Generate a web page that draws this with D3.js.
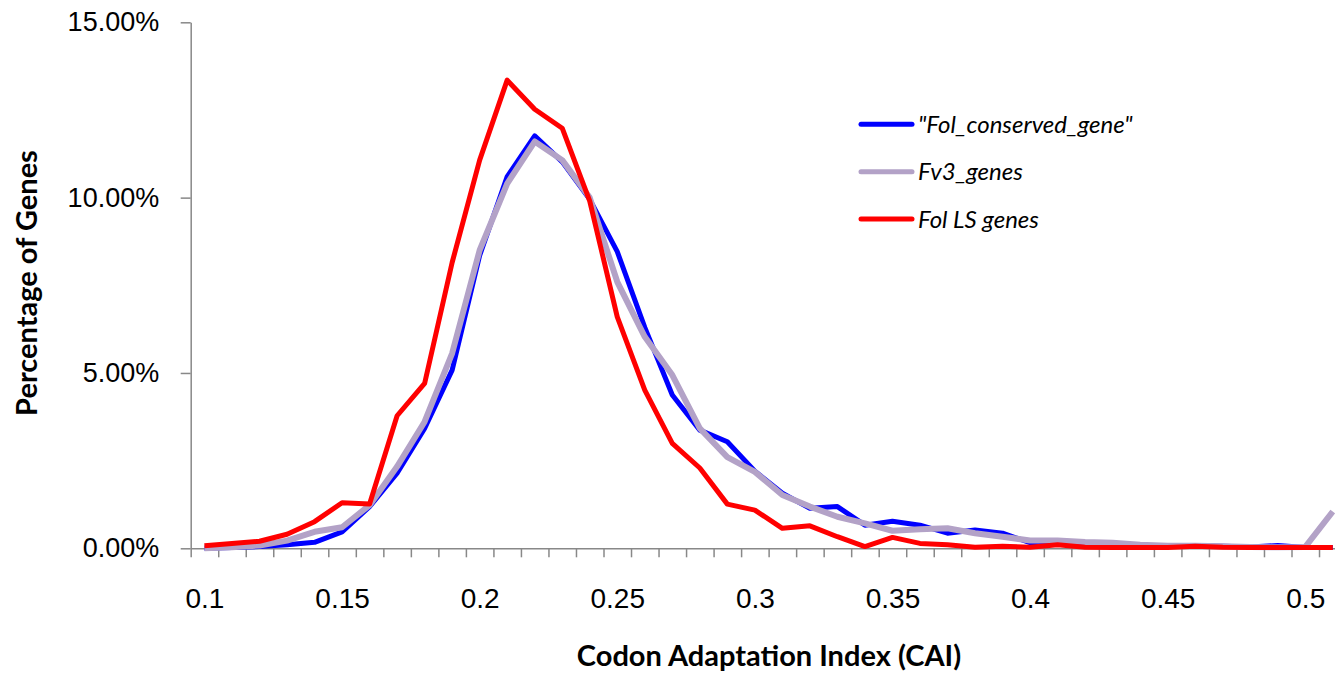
<!DOCTYPE html>
<html>
<head>
<meta charset="utf-8">
<script src="https://cdnjs.cloudflare.com/ajax/libs/d3/7.8.5/d3.min.js"></script>
<style>
  body { margin: 0; background: #fff; }
  svg { display: block; font-family: Lato, "Open Sans", sans-serif; }
  .axis path, .axis line { stroke: #888; stroke-width: 1.5px; }
</style>
</head>
<body>
<div class="container"></div>
<script>
// CAI categories 0.10 ... 0.51
const cai = d3.range(10, 52).map(d => d / 100)
const labelTicks = [0.1, 0.15, 0.2, 0.25, 0.3, 0.35, 0.4, 0.45, 0.5]
const yTicks = [0, 0.05, 0.10, 0.15]

const seriesNames = ['"Fol_conserved_gene"', 'Fv3_genes', 'Fol LS genes']
const seriesColors = ['#0000ff', '#b3a2c7', '#ff0000']

// values in percent
const folConserved = [0.00, 0.02, 0.05, 0.10, 0.17, 0.47, 1.19, 2.14, 3.42, 5.08,
  8.35, 10.60, 11.76, 11.02, 9.95, 8.46, 6.30, 4.37, 3.37, 3.04,
  2.20, 1.57, 1.14, 1.19, 0.66, 0.77, 0.66, 0.43, 0.52, 0.43,
  0.16, 0.14, 0.14, 0.12, 0.08, 0.06, 0.08, 0.06, 0.04, 0.08,
  0.02, 0.02]
const fv3Genes = [0.00, 0.03, 0.08, 0.22, 0.47, 0.60, 1.23, 2.33, 3.61, 5.56,
  8.50, 10.40, 11.60, 11.07, 10.00, 7.60, 6.03, 4.94, 3.42, 2.60,
  2.18, 1.52, 1.19, 0.90, 0.71, 0.50, 0.54, 0.57, 0.43, 0.33,
  0.22, 0.22, 0.18, 0.16, 0.10, 0.07, 0.07, 0.06, 0.04, 0.03,
  0.04, 1.05]
const folLS = [0.07, 0.14, 0.20, 0.40, 0.76, 1.30, 1.26, 3.78, 4.70, 8.15,
  11.07, 13.35, 12.52, 11.98, 9.90, 6.60, 4.51, 2.99, 2.29, 1.26,
  1.09, 0.57, 0.64, 0.33, 0.05, 0.31, 0.14, 0.10, 0.03, 0.06,
  0.03, 0.10, 0.03, 0.02, 0.02, 0.02, 0.06, 0.03, 0.02, 0.02,
  0.02, 0.02]

const W = 1335, H = 676
const x0 = 190.7, step = 27.52
const plotTop = 22.3, plotBottom = 548.3

const svg = d3.select('.container').append('svg')
  .attr('width', W)
  .attr('height', H)

const x = d3.scalePoint()
  .domain(cai)
  .range([x0, x0 + step * cai.length])
  .padding(0.5)

// boundary scale for the tick marks between categories
const xb = d3.scaleLinear()
  .domain([0, cai.length])
  .range([x0, x0 + step * cai.length])

const y = d3.scaleLinear()
  .domain([0, 0.15])
  .range([plotBottom, plotTop])

// y axis
const yAxis = svg.append('g')
  .attr('class', 'axis')
  .attr('transform', `translate(${x0},0)`)
  .call(d3.axisLeft(y).tickValues(yTicks).tickFormat(d3.format('.2%')).tickSize(10).tickSizeOuter(0).tickPadding(21.5))
yAxis.selectAll('text').style('font-size', '27px').attr('fill', '#000')

// x axis: tick marks between categories
svg.append('g')
  .attr('class', 'axis')
  .attr('transform', `translate(0,${plotBottom})`)
  .call(d3.axisBottom(xb).tickValues(d3.range(0, cai.length + 1)).tickFormat('').tickSize(9).tickSizeOuter(0))

// x axis labels
const xLab = svg.append('g')
  .attr('transform', `translate(0,${plotBottom})`)
  .call(d3.axisBottom(x).tickValues(labelTicks).tickFormat(d => String(d)).tickSize(0).tickPadding(39.5))
xLab.select('.domain').remove()
xLab.selectAll('text').style('font-size', '28px').attr('fill', '#000')

// lines
const line = d3.line()
  .x((d, i) => x(cai[i]))
  .y(d => y(d / 100))

const data = [folConserved, fv3Genes, folLS]
const widths = [5, 6, 5]
data.forEach((vals, k) => {
  svg.append('path')
    .datum(vals)
    .attr('fill', 'none')
    .attr('stroke', seriesColors[k])
    .attr('stroke-width', widths[k])
    .attr('stroke-linejoin', 'round')
    .attr('d', line)
})

// axis titles
svg.append('text')
  .attr('x', 769)
  .attr('y', 666)
  .attr('text-anchor', 'middle')
  .style('font-size', '29px')
  .style('font-weight', 'bold')
  .text('Codon Adaptation Index (CAI)')

svg.append('text')
  .attr('transform', 'translate(37,283) rotate(-90)')
  .attr('text-anchor', 'middle')
  .style('font-size', '29px')
  .style('font-weight', 'bold')
  .text('Percentage of Genes')

// legend
const legend = svg.append('g').attr('id', 'legend')
  .selectAll('g')
  .data(seriesNames)
  .enter()
  .append('g')
  .attr('transform', (d, i) => `translate(0,${124.3 + i * 47.4})`)

legend.append('line')
  .attr('x1', 861)
  .attr('x2', 912)
  .attr('stroke', (d, i) => seriesColors[i])
  .attr('stroke-width', 5)
  .attr('stroke-linecap', 'round')

legend.append('text')
  .attr('x', 918)
  .attr('dy', '0.35em')
  .style('font-size', '24px')
  .style('font-style', 'italic')
  .text(d => d)
</script>
</body>
</html>
